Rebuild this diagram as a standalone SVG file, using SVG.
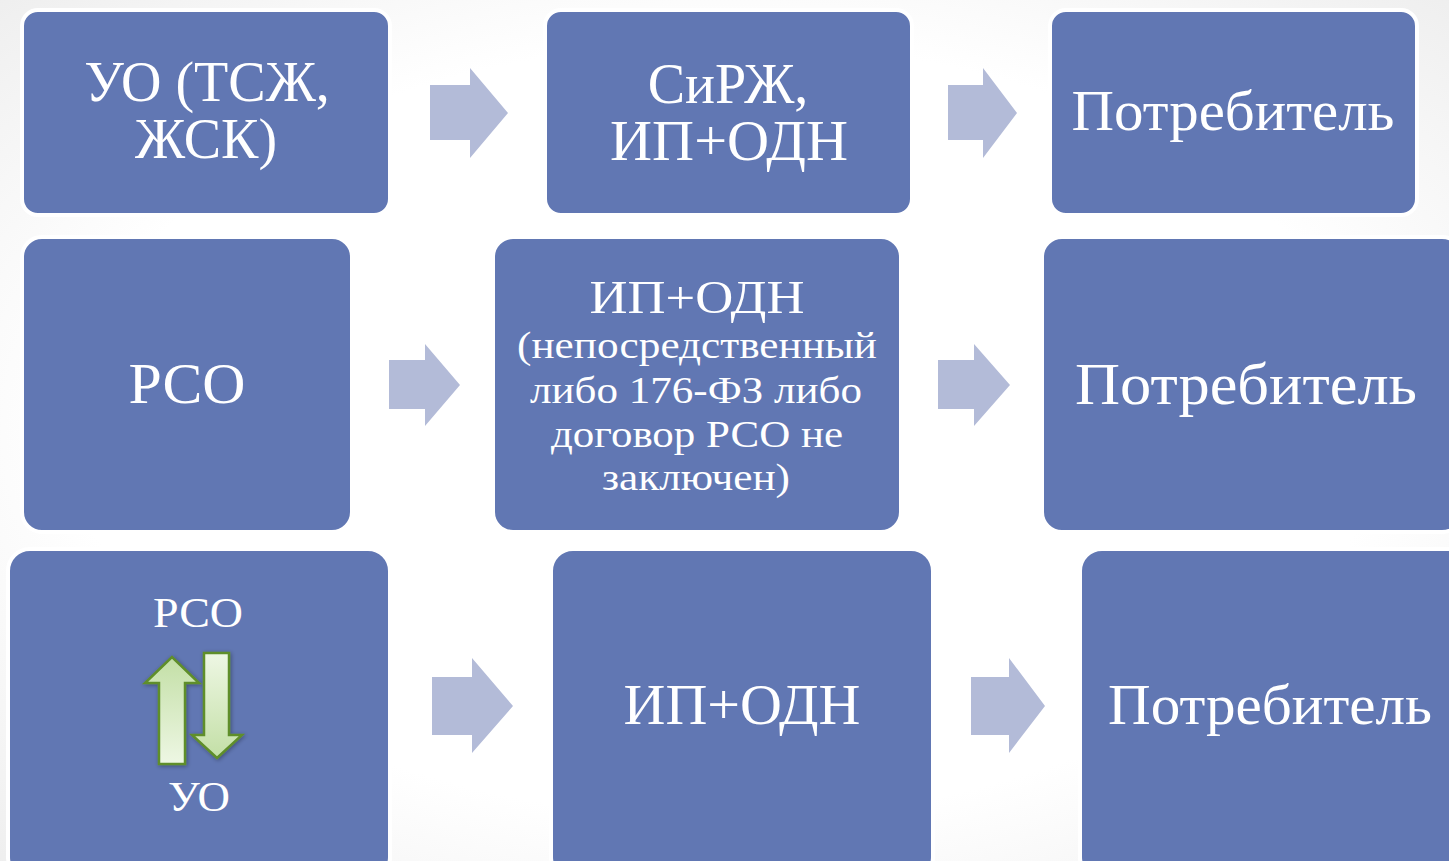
<svg xmlns="http://www.w3.org/2000/svg" width="1449" height="861" viewBox="0 0 1449 861">
<defs>
<radialGradient id="bg" cx="0.5" cy="0.5" r="0.75">
<stop offset="0.6" stop-color="#ffffff"/>
<stop offset="1" stop-color="#ececec"/>
</radialGradient>
<linearGradient id="gup" x1="0" y1="1" x2="0" y2="0">
<stop offset="0" stop-color="#eef7e4"/>
<stop offset="1" stop-color="#c3dfa6"/>
</linearGradient>
<linearGradient id="gdn" x1="0" y1="0" x2="0" y2="1">
<stop offset="0" stop-color="#eef7e4"/>
<stop offset="1" stop-color="#c3dfa6"/>
</linearGradient>
<filter id="sh" x="-20%" y="-20%" width="140%" height="140%">
<feGaussianBlur in="SourceAlpha" stdDeviation="2"/>
<feOffset dx="1" dy="1" result="b"/>
<feFlood flood-color="#000" flood-opacity="0.35"/>
<feComposite in2="b" operator="in"/>
<feMerge><feMergeNode/><feMergeNode in="SourceGraphic"/></feMerge>
</filter>
</defs>
<style>
.box{fill:#6177b3;stroke:#ffffff;stroke-width:4}
.arr{fill:#b3bbd8}
.t{font-family:"Liberation Serif","DejaVu Serif",serif;fill:#ffffff;text-anchor:middle}
.big{font-size:56px}
.mid{font-size:47px}
.sm{font-size:38px}
.lab{font-size:42px}
.garr{stroke:#5e8e2a;stroke-width:2.5;stroke-linejoin:miter}
</style>
<rect width="1449" height="861" fill="url(#bg)"/>

<g id="connectors">
<polygon class="arr" points="430,85 470,85 470,68 508,113 470,158 470,140 430,140"/>
<polygon class="arr" points="948,85 983,85 983,68 1017,113 983,158 983,140 948,140"/>
<polygon class="arr" points="389,360 425,360 425,344 460,385 425,426 425,409 389,409"/>
<polygon class="arr" points="938,360 974,360 974,344 1010,385 974,426 974,409 938,409"/>
<polygon class="arr" points="432,677 472,677 472,658 513,706 472,753 472,735 432,735"/>
<polygon class="arr" points="971,677 1009,677 1009,658 1045,706 1009,753 1009,735 971,735"/>
</g>

<g id="node-uo-tszh">
<rect class="box" x="22" y="10" width="368" height="205" rx="16"/>
<text class="t big" x="207" y="101">УО (ТСЖ,</text>
<text class="t big" x="206" y="158">ЖСК)</text>
</g>
<g id="node-sirzh">
<rect class="box" x="545" y="10" width="367" height="205" rx="16"/>
<text class="t big" x="728" y="103">СиРЖ,</text>
<text class="t big" x="729" y="160" textLength="238" lengthAdjust="spacingAndGlyphs">ИП+ОДН</text>
</g>
<g id="node-consumer1">
<rect class="box" x="1050" y="10" width="367" height="205" rx="16"/>
<text class="t big" x="1233" y="130" textLength="323" lengthAdjust="spacingAndGlyphs">Потребитель</text>
</g>

<g id="node-rso">
<rect class="box" x="22" y="237" width="330" height="295" rx="20"/>
<text class="t big" x="187" y="403" textLength="117" lengthAdjust="spacingAndGlyphs">РСО</text>
</g>
<g id="node-ip-odn-direct">
<rect class="box" x="493" y="237" width="408" height="295" rx="20"/>
<text class="t mid" x="697" y="313" textLength="215" lengthAdjust="spacingAndGlyphs">ИП+ОДН</text>
<text class="t sm" x="697" y="358" textLength="360" lengthAdjust="spacingAndGlyphs">(непосредственный</text>
<text class="t sm" x="696" y="403" textLength="332" lengthAdjust="spacingAndGlyphs">либо 176-ФЗ либо</text>
<text class="t sm" x="697" y="447" textLength="292" lengthAdjust="spacingAndGlyphs">договор РСО не</text>
<text class="t sm" x="696" y="490" textLength="188" lengthAdjust="spacingAndGlyphs">заключен)</text>
</g>
<g id="node-consumer2">
<rect class="box" x="1042" y="237" width="420" height="295" rx="20"/>
<text class="t big" x="1246" y="404" style="font-size:60px" textLength="342" lengthAdjust="spacingAndGlyphs">Потребитель</text>
</g>

<g id="node-rso-uo">
<rect class="box" x="8" y="549" width="382" height="330" rx="22"/>
<text class="t lab" x="198" y="627" textLength="90" lengthAdjust="spacingAndGlyphs">РСО</text>
<text class="t lab" x="199" y="811" textLength="62" lengthAdjust="spacingAndGlyphs">УО</text>
<g filter="url(#sh)">
<polygon class="garr" fill="url(#gup)" points="159,764 185,764 185,683 199,683 172,657 145,683 159,683"/>
<polygon class="garr" fill="url(#gdn)" points="204,653 229,653 229,735 242,735 217,758 192,735 204,735"/>
</g>
</g>
<g id="node-ip-odn">
<rect class="box" x="551" y="549" width="382" height="330" rx="22"/>
<text class="t big" x="742" y="724" textLength="237" lengthAdjust="spacingAndGlyphs">ИП+ОДН</text>
</g>
<g id="node-consumer3">
<rect class="box" x="1080" y="549" width="390" height="330" rx="22"/>
<text class="t big" x="1270" y="724" textLength="324" lengthAdjust="spacingAndGlyphs">Потребитель</text>
</g>
</svg>
